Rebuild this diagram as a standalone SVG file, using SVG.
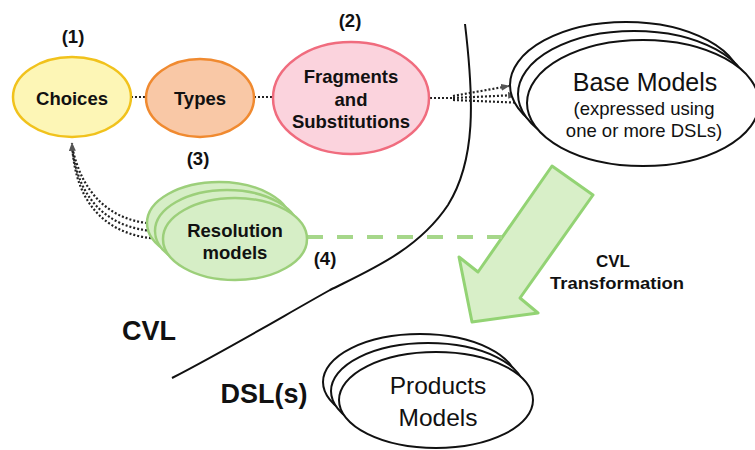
<svg xmlns="http://www.w3.org/2000/svg" width="755" height="450" viewBox="0 0 755 450">
  <defs>
    <style>
      text { font-family: "Liberation Sans", Arial, sans-serif; text-anchor: middle; fill: #111; }
      .lbl { font-weight: bold; font-size: 18.5px; }
      .num { font-weight: bold; font-size: 18.5px; }
      .big { font-weight: bold; font-size: 27px; }
      .model { fill: #fff; stroke: #111; stroke-width: 2; }
      .res { fill: #d6eec6; stroke: #9ccf7a; stroke-width: 2.5; }
      .dot { fill: none; stroke: #222; stroke-width: 2.2; stroke-dasharray: 2 2; }
    </style>
    <marker id="tip" viewBox="0 0 10 8" refX="9" refY="4" markerWidth="9" markerHeight="7" markerUnits="userSpaceOnUse" orient="auto">
      <path d="M0,0 L10,4 L0,8 z" fill="#555"/>
    </marker>
  </defs>

  <!-- boundary between the CVL and DSL(s) areas -->
  <path d="M465,24 C474,100 476,160 448,205 C418,250 370,270 330,290 C280,318 230,348 172,378" fill="none" stroke="#111" stroke-width="2"/>

  <!-- area labels -->
  <text class="big" x="149" y="340">CVL</text>
  <text class="big" x="264" y="403">DSL(s)</text>

  <!-- CVL transformation arrow -->
  <g id="cvl-transformation">
    <polygon points="552,166 593,195 520,298 538,313 472,322 459,257 478,272" fill="#d8efc8" stroke="#93d374" stroke-width="3" stroke-linejoin="round"/>
    <text style="font-weight:bold;font-size:17px" x="613" y="267">CVL</text>
    <text style="font-weight:bold;font-size:17px" x="617" y="289" textLength="134" lengthAdjust="spacingAndGlyphs">Transformation</text>
  </g>

  <g id="connectors">
    <!-- chain between the CVL elements -->
    <line class="dot" x1="131" y1="97" x2="146" y2="97"/>
    <line class="dot" x1="254" y1="97" x2="273" y2="97"/>
    <!-- fragments to base models -->
    <line class="dot" x1="430" y1="98" x2="453" y2="98"/>
    <path class="dot" d="M453,96 L509,86" marker-end="url(#tip)"/>
    <path class="dot" d="M453,98 L516,95" marker-end="url(#tip)"/>
    <path class="dot" d="M453,100 L525,103" marker-end="url(#tip)"/>
    <!-- resolution models to choices -->
    <path class="dot" d="M147,223 C112,219 82,196 72,146"/>
    <path class="dot" d="M155,231 C113,229 78,204 72,146"/>
    <path class="dot" d="M163,239 C115,238 75,212 72,143" marker-end="url(#tip)"/>
    <!-- resolution models to transformation -->
    <line x1="307" y1="237" x2="502" y2="237" stroke="#a6d78a" stroke-width="4" stroke-dasharray="16 14"/>
  </g>

  <g id="choices">
    <ellipse cx="72" cy="97" rx="59" ry="40" fill="#fdf6b6" stroke="#f1c21c" stroke-width="2.5"/>
    <text class="lbl" x="72" y="105">Choices</text>
    <text class="num" x="73" y="43">(1)</text>
  </g>

  <g id="types">
    <ellipse cx="200" cy="98" rx="54" ry="39" fill="#f9c8a6" stroke="#f08a30" stroke-width="2.5"/>
    <text class="lbl" x="200" y="105">Types</text>
    <text class="num" x="198" y="165">(3)</text>
  </g>

  <g id="fragments">
    <ellipse cx="351" cy="98" rx="78" ry="56" fill="#fbd3dd" stroke="#f06c7e" stroke-width="2.5"/>
    <text class="lbl" x="351" y="83">Fragments</text>
    <text class="lbl" x="351" y="106">and</text>
    <text class="lbl" x="351" y="128">Substitutions</text>
    <text class="num" x="350" y="27">(2)</text>
  </g>

  <g id="resolution-models">
    <ellipse class="res" cx="219" cy="223" rx="72" ry="41"/>
    <ellipse class="res" cx="227" cy="231" rx="72" ry="41"/>
    <ellipse class="res" cx="235" cy="239" rx="72" ry="41"/>
    <text class="lbl" x="235" y="237">Resolution</text>
    <text class="lbl" x="235" y="259">models</text>
    <text class="num" x="325" y="265">(4)</text>
  </g>

  <g id="base-models">
    <ellipse class="model" cx="626" cy="85" rx="116" ry="63"/>
    <ellipse class="model" cx="634" cy="94" rx="116" ry="63"/>
    <ellipse class="model" cx="643" cy="103" rx="116" ry="63"/>
    <text x="645" y="91" style="font-size:25px">Base Models</text>
    <text x="644" y="115" style="font-size:18.5px">(expressed using</text>
    <text x="644" y="137" style="font-size:18.5px">one or more DSLs)</text>
  </g>

  <g id="products-models">
    <ellipse class="model" cx="420" cy="382" rx="97" ry="48"/>
    <ellipse class="model" cx="428" cy="391" rx="97" ry="48"/>
    <ellipse class="model" cx="436" cy="400" rx="97" ry="48"/>
    <text x="438" y="394" style="font-size:24.5px">Products</text>
    <text x="438" y="426" style="font-size:24.5px">Models</text>
  </g>
</svg>
